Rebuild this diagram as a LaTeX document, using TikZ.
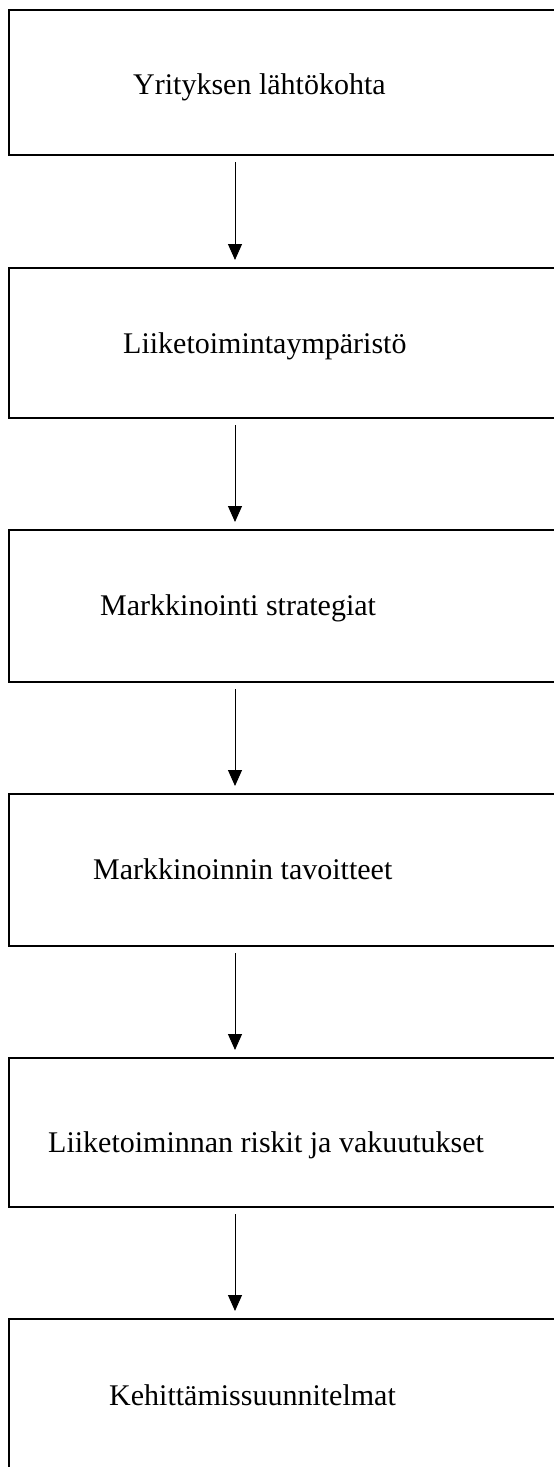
\documentclass[tikz,border=0pt]{standalone}
\usepackage{fontspec}
\setmainfont{Liberation Serif}
\usetikzlibrary{arrows.meta}
\begin{document}
\begin{tikzpicture}[x=1pt,y=-1pt,
  stagebox/.style={draw, line width=2pt, rectangle, outer sep=0pt, inner sep=0pt, minimum width=591pt},
  stagetext/.style={anchor=base west, inner sep=0pt, font=\fontsize{30}{36}\selectfont},
  flowarrow/.style={line width=1pt, -{Triangle[length=16pt,width=14pt]}, shorten <=7pt, shorten >=8pt}]
\useasboundingbox (0,0) rectangle (554,1467);
\clip (0,0) rectangle (554,1467);
\fill[white] (0,0) rectangle (554,1467);
\node[stagebox, minimum height=145.5pt] (b1) at (304.5,82.25) {};
\node[stagebox, minimum height=150pt] (b2) at (304.5,343) {};
\node[stagebox, minimum height=152pt] (b3) at (304.5,606) {};
\node[stagebox, minimum height=152pt] (b4) at (304.5,870) {};
\node[stagebox, minimum height=149pt] (b5) at (304.5,1132.5) {};
\node[stagebox, minimum height=171pt] (b6) at (304.5,1404.5) {};
\node[stagetext] (t1) at (133,94) {Yrityksen lähtökohta};
\node[stagetext] (t2) at (123,353) {Liiketoimintaympäristö};
\node[stagetext] (t3) at (100,615) {Markkinointi strategiat};
\node[stagetext] (t4) at (93,879) {Markkinoinnin tavoitteet};
\node[stagetext] (t5) at (48,1152) {Liiketoiminnan riskit ja vakuutukset};
\node[stagetext] (t6) at (109,1405) {Kehittämissuunnitelmat};
\coordinate (ax) at (235,0);
\draw[flowarrow] (b1.south -| ax) -- (b2.north -| ax);
\draw[flowarrow] (b2.south -| ax) -- (b3.north -| ax);
\draw[flowarrow] (b3.south -| ax) -- (b4.north -| ax);
\draw[flowarrow] (b4.south -| ax) -- (b5.north -| ax);
\draw[flowarrow] (b5.south -| ax) -- (b6.north -| ax);
\end{tikzpicture}
\end{document}
